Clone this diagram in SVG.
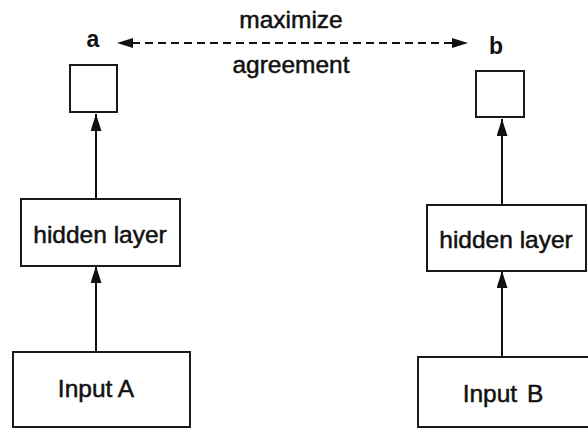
<svg xmlns="http://www.w3.org/2000/svg" width="588" height="429" viewBox="0 0 588 429">
  <defs>
    <marker id="head" viewBox="0 0 17 11" refX="17" refY="5.5" markerWidth="17" markerHeight="11" markerUnits="userSpaceOnUse" orient="auto">
      <path d="M0,0 L17,5.5 L0,11 Z" fill="#111"/>
    </marker>
  </defs>
  <style>
    .box { fill: #fff; stroke: #1a1a1a; stroke-width: 2; }
    .lbl { font-family: "Liberation Sans", Arial, sans-serif; font-size: 24.5px; fill: #111; stroke: #111; stroke-width: 0.5; text-anchor: middle; }
    .var { font-family: "Liberation Sans", Arial, sans-serif; font-size: 23px; font-weight: bold; fill: #111; text-anchor: middle; }
    .edge { stroke: #111; stroke-width: 2; fill: none; marker-end: url(#head); }
    .dash { stroke: #111; stroke-width: 2; fill: none; stroke-dasharray: 8 5; }
  </style>
  <rect width="588" height="429" fill="#fff"/>

  <!-- left branch -->
  <g id="inputA">
    <rect class="box" x="13" y="352" width="177" height="75"/>
    <text class="lbl" x="96" y="397">Input A</text>
  </g>
  <g id="hiddenA">
    <rect class="box" x="21" y="199" width="159" height="67"/>
    <text class="lbl" x="100" y="243">hidden layer</text>
  </g>
  <g id="outA">
    <rect class="box" x="70" y="65" width="47" height="47"/>
    <text class="var" x="93" y="47">a</text>
  </g>

  <!-- right branch -->
  <g id="inputB">
    <rect class="box" x="418" y="357" width="180" height="70"/>
    <text class="lbl" x="503" y="402">Input <tspan dx="3">B</tspan></text>
  </g>
  <g id="hiddenB">
    <rect class="box" x="427" y="205" width="159" height="66"/>
    <text class="lbl" x="506" y="248">hidden layer</text>
  </g>
  <g id="outB">
    <rect class="box" x="476" y="71" width="48" height="46"/>
    <text class="var" x="496" y="54">b</text>
  </g>

  <!-- objective label -->
  <g id="objective">
    <text class="lbl" x="291" y="28">maximize</text>
    <text class="lbl" x="291" y="73">agreement</text>
  </g>

  <!-- connectors -->
  <g id="connectors">
    <line class="edge" x1="96" y1="352" x2="96" y2="266"/>
    <line class="edge" x1="96" y1="199" x2="96" y2="114"/>
    <line class="edge" x1="502" y1="357" x2="502" y2="271"/>
    <line class="edge" x1="502" y1="205" x2="502" y2="119"/>
    <line class="dash" x1="132" y1="43" x2="453" y2="43"/>
    <path d="M117,43 L133,38 L133,48 Z" fill="#111"/>
    <path d="M468,43 L452,38 L452,48 Z" fill="#111"/>
  </g>
</svg>
